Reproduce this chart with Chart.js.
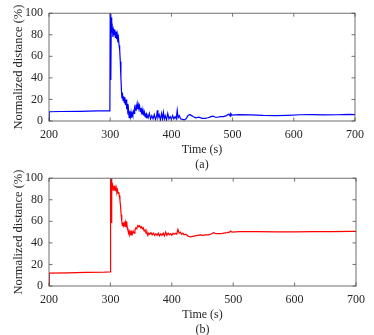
<!DOCTYPE html>
<html>
<head>
<meta charset="utf-8">
<script src="https://cdn.jsdelivr.net/npm/chart.js@4.4.1/dist/chart.umd.min.js"></script>
<style>
  html, body { margin: 0; padding: 0; background: #fff; }
  body { width: 374px; height: 335px; position: relative; overflow: hidden; }
  canvas { position: absolute; left: 0; }
  #chartA { top: 0; }
  #chartB { top: 165px; }
</style>
</head>
<body>
<canvas id="chartA" width="374" height="177"></canvas>
<canvas id="chartB" width="374" height="172"></canvas>
<script>
(function () {
  "use strict";

  // axis ticks
  const xTicks = [200, 300, 400, 500, 600, 700];
  const yTicks = [0, 20, 40, 60, 80, 100];

  // (a) blue trace
  const timeA = [
    200, 200.3, 220, 250, 280, 299.5,
    300, 300.8, 301.2, 301.8, 302.5, 303.5, 304.5, 305.5, 306.5, 307.5, 308.5, 309.5,
    310.5, 311.5, 312.5, 313.5, 314.5, 315.5, 316.5, 317.5, 318.5, 319.2,
    320, 321, 322, 323, 324, 325, 326, 327, 328, 329,
    330, 331, 332, 333, 334, 335, 336, 337, 338, 339,
    340, 341, 342, 343, 344, 345, 346, 347, 348, 349,
    350, 351, 352, 353, 354, 355, 356, 357, 358, 359,
    360, 362, 364, 366, 368, 370, 372, 374, 376, 377, 378,
    380, 382, 384, 385.5, 387, 388.5, 390, 392, 394, 396, 398,
    400, 402, 404, 406, 408, 409.5, 411, 413, 415, 418, 421, 424, 427,
    430, 433, 436, 440, 445, 450, 455, 460, 465, 468, 472, 476,
    480, 485, 490, 494, 496, 497, 499,
    510, 530, 550, 570, 590, 610, 630, 650, 670, 690, 700
  ];
  const distA = [
    0, 8.6, 8.8, 9.0, 9.3, 9.4,
    100, 88, 38, 96, 82, 86, 78, 84, 80, 85, 77, 83,
    76, 80, 73, 77, 70, 66, 55, 40, 27, 21,
    26, 19, 23, 17, 22, 15, 20, 11, 16, 6,
    10, 3, 9, 4, 8, 3, 7, 5, 9, 7,
    12, 10, 15, 12, 16, 11, 15, 12, 14, 9,
    12, 8, 11, 6, 9, 5, 8, 4, 7, 3,
    6, 3, 7, 2, 5, 2, 6, 1.5, 5, 10, 3,
    6, 1, 7, 2, 8, 2, 5, 1, 7, 2, 4,
    1.5, 5, 2, 4, 2, 10, 3, 5, 2, 1.5, 1, 2, 5,
    6, 5, 4, 3, 3.5, 2.5, 2.5, 3, 4, 4.5, 3.5, 3.5,
    4, 4, 5, 6.5, 4.5, 7, 5.5,
    6, 5.7, 5.2, 5, 5.3, 5.8, 5.9, 5.6, 5.8, 6.2, 6
  ];

  // (b) red trace
  const timeB = [
    200, 200.3, 230, 260, 290, 299.5,
    300, 300.6, 301.2, 301.8, 302.5, 303.5, 304.5, 305.5, 306.5, 307.5, 308.5, 309.5,
    310.5, 311.5, 312.5, 313.5, 314.5, 315.5, 316.5, 317.5, 318.5, 319.5,
    320.5, 321.5, 322.5, 323.5, 324.5, 325.5, 326.5, 327.5, 328.5, 329.5,
    330.5, 331.5, 332.5, 333.5, 334.5, 335.5, 337, 338.5,
    340, 341.5, 343, 344.5, 346, 347.5, 349,
    350.5, 352, 353.5, 355, 356.5, 358, 359.5,
    361, 362.5, 364, 366, 368, 370, 372, 374, 376, 378,
    380, 382, 384, 386, 388, 390, 392, 394, 396, 398,
    400, 402, 404, 406, 408, 410, 412, 414, 416, 418,
    420, 423, 426, 430, 434, 438, 442, 446, 450, 455,
    460, 465, 468, 472, 476, 480, 485, 490, 494, 496, 498,
    510, 540, 570, 600, 630, 660, 690, 700
  ];
  const distB = [
    0, 12, 12.2, 12.6, 12.8, 13,
    99, 70, 59, 100, 92, 94, 89, 93, 90, 92, 88, 91,
    87, 89, 86, 87, 84, 80, 74, 66, 60, 56,
    59, 56, 58, 55, 59, 55, 60, 54, 52, 49,
    51, 48, 50, 47, 50, 48, 51, 49,
    52, 54, 53, 56, 55, 56, 54,
    55, 53, 54, 51, 52, 49, 50,
    47, 49, 48, 49.5, 47.5, 49, 47, 48.5, 47, 49,
    46.5, 48.5, 47, 49, 46.5, 50, 47, 49, 47.5, 48.5,
    47, 49, 48, 49, 48, 52.5, 49, 50, 48, 49,
    47.5, 48, 46.5, 45.5, 46, 46.5, 47, 47.5, 47, 47.5,
    47.5, 48.5, 49.5, 48.5, 48.5, 48.5, 49, 49.5, 50, 51, 50,
    50.5, 50.4, 50.3, 50.2, 50.4, 50.5, 50.6, 50.6
  ];

  const INK = "#262626";
  Chart.defaults.font.family = "'Liberation Serif', 'Times New Roman', serif";
  Chart.defaults.font.size = 12;
  Chart.defaults.color = INK;

  // MATLAB-like box with inward tick marks
  const boxTicks = {
    id: "boxTicks",
    afterDatasetsDraw(chart) {
      const { ctx, chartArea: a, scales } = chart;
      const len = 3.5;
      ctx.save();
      ctx.strokeStyle = "#4d4d4d";
      ctx.lineWidth = 0.8;
      ctx.strokeRect(a.left, a.top, a.right - a.left, a.bottom - a.top);
      ctx.beginPath();
      xTicks.forEach((v) => {
        const x = scales.x.getPixelForValue(v);
        ctx.moveTo(x, a.bottom); ctx.lineTo(x, a.bottom - len);
        ctx.moveTo(x, a.top); ctx.lineTo(x, a.top + len);
      });
      yTicks.forEach((v) => {
        const y = scales.y.getPixelForValue(v);
        ctx.moveTo(a.left, y); ctx.lineTo(a.left + len, y);
        ctx.moveTo(a.right, y); ctx.lineTo(a.right - len, y);
      });
      ctx.stroke();
      ctx.restore();
    }
  };

  const makeChart = (id, times, values, color, tag, pad, xHeight, titlePad) => {
    const points = times.map((t, i) => ({ x: t, y: values[i] }));
    return new Chart(document.getElementById(id), {
      type: "line",
      data: {
        datasets: [{
          data: points,
          borderColor: color,
          borderWidth: 1.2,
          pointRadius: 0,
          tension: 0,
          fill: false
        }]
      },
      options: {
        responsive: false,
        animation: false,
        devicePixelRatio: 1,
        layout: { padding: pad },
        plugins: { legend: { display: false }, tooltip: { enabled: false } },
        scales: {
          x: {
            type: "linear",
            min: 200,
            max: 700,
            afterBuildTicks: (s) => { s.ticks = xTicks.map((v) => ({ value: v })); },
            afterFit: (s) => { s.height = xHeight; },
            grid: { display: false, drawTicks: false },
            border: { display: false },
            ticks: { padding: 7, color: INK, maxRotation: 0 },
            title: {
              display: true,
              text: ["Time (s)", tag],
              color: INK,
              font: { size: 12, lineHeight: 1.25 },
              padding: { top: 0, bottom: titlePad }
            }
          },
          y: {
            min: 0,
            max: 100,
            afterBuildTicks: (s) => { s.ticks = yTicks.map((v) => ({ value: v })); },
            afterFit: (s) => { s.width = 49; },
            grid: { display: false, drawTicks: false },
            border: { display: false },
            ticks: { padding: 6, color: INK },
            title: {
              display: true,
              text: "Normalized distance (%)",
              color: INK,
              font: { size: 12.5 },
              padding: { top: 11, bottom: 0 }
            }
          }
        }
      },
      plugins: [boxTicks]
    });
  };

  makeChart("chartA", timeA, distA, "#0000ff", "(a)", { top: 10, right: 19, left: 0, bottom: 0 }, 56, 4.5);
  makeChart("chartB", timeB, distB, "#ff0000", "(b)", { top: 7, right: 18, left: 0, bottom: 0 }, 51, 0);
})();
</script>
</body>
</html>
